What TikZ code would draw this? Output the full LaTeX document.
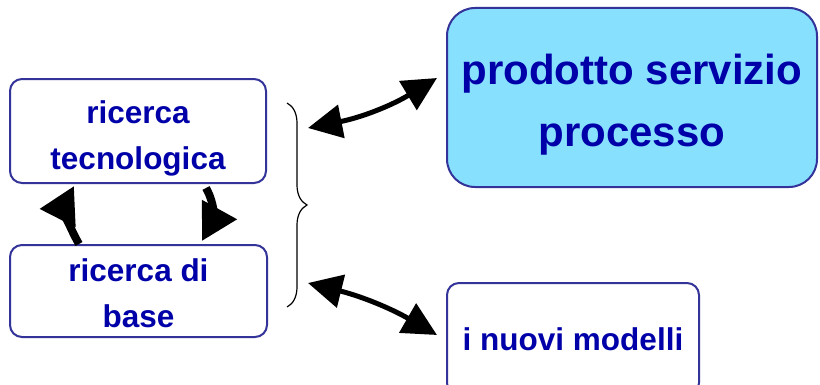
\documentclass[tikz,border=0pt]{standalone}
\usepackage{fontspec}
\setmainfont{Liberation Sans}
\usetikzlibrary{arrows.meta, decorations.pathreplacing}
\definecolor{txtblue}{RGB}{0,0,168}
\definecolor{rimblue}{RGB}{51,51,153}
\definecolor{prodfill}{RGB}{136,224,255}
\begin{document}
\begin{tikzpicture}[x=1pt, y=1pt,
		box/.style={draw=rimblue, line width=2pt, fill=white, rounded corners=12pt, inner sep=0pt},
		lbl/.style={text=txtblue, font=\bfseries\fontsize{31.5}{46}\selectfont, align=center, inner sep=0pt},
		cyc/.style={line width=8pt, -{Triangle[length=36pt, width=38pt]}},
		link/.style={line width=5pt, {Triangle[length=34pt, width=33pt]}-{Triangle[length=34pt, width=33pt]}}]
		\clip (0, 0) rectangle (820, 384);

		\node[box, minimum width=256pt, minimum height=104pt] (tech) at (138, 253) {};
		\node[box, minimum width=257pt, minimum height=92pt] (base) at (138.5, 93) {};
		\node[box, fill=prodfill, rounded corners=28pt, minimum width=370pt, minimum height=179pt] (prod) at (632, 286.5) {};
		\node[box, minimum width=252pt, minimum height=112pt] (nuovi) at (573, 45) {};

		\node[lbl] (techtxt) at ([yshift=-7pt]tech.center) {ricerca\\tecnologica};
		\node[lbl] (basetxt) at ([yshift=-2pt]base.center) {ricerca di\\base};
		\node[lbl, font=\bfseries\fontsize{42}{62}\selectfont] (prodtxt) at ([yshift=-7.5pt]prod.center) {prodotto servizio\\processo};
		\node[lbl] (nuovitxt) at (nuovi.center) {i nuovi modelli};

		\draw[line width=1.2pt, decorate, decoration={brace, amplitude=20pt}] (287, 281) -- (287, 77);
		\coordinate (brtop) at (308, 256);
		\coordinate (brbot) at (308, 101);

		\draw[cyc] ([xshift=70pt]base.north west) to[out=120, in=243] ([xshift=65pt, yshift=-2pt]tech.south west);
		\draw[cyc] ([xshift=197pt, yshift=-4pt]tech.south west) to[out=-60, in=61] ([xshift=193pt, yshift=3pt]base.north west);

		\draw[link] (brtop) to[bend right=10] ([shift={(-9pt, 19.5pt)}]prod.west);
		\draw[link] (brbot) to[bend left=8] ([shift={(-9pt, 4pt)}]nuovi.west);
	\end{tikzpicture}
\end{document}
